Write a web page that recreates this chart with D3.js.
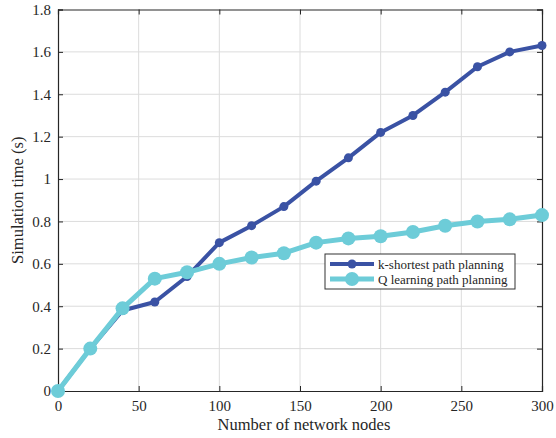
<!DOCTYPE html>
<html>
<head>
<meta charset="utf-8">
<script src="https://cdn.jsdelivr.net/npm/d3@7"></script>
<style>
  body { margin: 0; background: #fff; }
  svg text { font-family: "Liberation Serif", "Times New Roman", Times, serif !important; fill: #262626; }
</style>
</head>
<body>
<svg id="chart" width="556" height="438"></svg>
<script>
// Number of network nodes on the x axis
const nodes = [0, 20, 40, 60, 80, 100, 120, 140, 160, 180, 200, 220, 240, 260, 280, 300];
// Simulation time (s) for each planner
const kShortest = [0, 0.20, 0.38, 0.42, 0.54, 0.70, 0.78, 0.87, 0.99, 1.10, 1.22, 1.30, 1.41, 1.53, 1.60, 1.63];
const qLearning = [0, 0.20, 0.39, 0.53, 0.56, 0.60, 0.63, 0.65, 0.70, 0.72, 0.73, 0.75, 0.78, 0.80, 0.81, 0.83];
const xTicks = [0, 50, 100, 150, 200, 250, 300];
const yTicks = [0, 0.2, 0.4, 0.6, 0.8, 1, 1.2, 1.4, 1.6, 1.8];
const seriesNames = ["k-shortest path planning", "Q learning path planning"];

const serif = "'Liberation Serif', 'Times New Roman', Times, serif";
const svg = d3.select("#chart");
const plotL = 58, plotR = 542, plotT = 9.5, plotB = 391;

const x = d3.scaleLinear().domain([0, 300]).range([plotL, plotR]);
const y = d3.scaleLinear().domain([0, 1.8]).range([plotB, plotT]);

// grid
const grid = svg.append("g").attr("stroke", "#dcdcdc").attr("stroke-width", 1);
grid.selectAll("line.gx").data(xTicks.slice(1, -1)).join("line")
  .attr("x1", d => x(d)).attr("x2", d => x(d)).attr("y1", plotT).attr("y2", plotB);
grid.selectAll("line.gy").data(yTicks.slice(1, -1)).join("line")
  .attr("x1", plotL).attr("x2", plotR).attr("y1", d => y(d)).attr("y2", d => y(d));

// axes with inward ticks
const fmt = d => d3.format("~g")(d);
const axB = svg.append("g").attr("transform", `translate(0,${plotB})`)
  .call(d3.axisBottom(x).tickValues(xTicks).tickSize(-5).tickPadding(9).tickFormat(fmt));
const axL = svg.append("g").attr("transform", `translate(${plotL},0)`)
  .call(d3.axisLeft(y).tickValues(yTicks).tickSize(-5).tickPadding(7).tickFormat(fmt));
const axT = svg.append("g").attr("transform", `translate(0,${plotT})`)
  .call(d3.axisTop(x).tickValues(xTicks).tickSize(-5).tickFormat(""));
const axR = svg.append("g").attr("transform", `translate(${plotR},0)`)
  .call(d3.axisRight(y).tickValues(yTicks).tickSize(-5).tickFormat(""));
[axB, axL, axT, axR].forEach(a => {
  a.attr("font-family", serif);
  a.select(".domain").attr("stroke", "#262626").attr("stroke-width", 1.2);
  a.selectAll(".tick line").attr("stroke", "#262626");
  a.selectAll("text").style("font-family", serif).style("font-size", "15px").attr("fill", "#262626");
});

// axis titles
svg.append("text").attr("x", (plotL + plotR) / 2 + 4).attr("y", 430)
  .attr("text-anchor", "middle").style("font-family", serif).style("font-size", "16.5px")
  .text("Number of network nodes");
svg.append("text").attr("transform", `translate(23,${(plotT + plotB) / 2}) rotate(-90)`)
  .attr("text-anchor", "middle").style("font-family", serif).style("font-size", "16.5px")
  .text("Simulation time (s)");

const line = d3.line().x(d => x(d[0])).y(d => y(d[1]));
const series = [
  { name: seriesNames[0], values: kShortest, color: "#3a52a4", width: 4, r: 4.5 },
  { name: seriesNames[1], values: qLearning, color: "#6dccd8", width: 5, r: 7 }
];

series.forEach(s => {
  const pts = nodes.map((n, i) => [n, s.values[i]]);
  svg.append("path").datum(pts).attr("d", line)
    .attr("fill", "none").attr("stroke", s.color).attr("stroke-width", s.width)
    .attr("stroke-linejoin", "round");
  svg.append("g").selectAll("circle").data(pts).join("circle")
    .attr("cx", d => x(d[0])).attr("cy", d => y(d[1])).attr("r", s.r)
    .attr("fill", s.color);
});

// legend
const lg = svg.append("g").attr("transform", "translate(325,254)");
lg.append("rect").attr("width", 190).attr("height", 35)
  .attr("fill", "#fff").attr("stroke", "#333").attr("stroke-width", 1);
series.forEach((s, i) => {
  const cy = 10 + i * 15;
  lg.append("line").attr("x1", 5).attr("x2", 49).attr("y1", cy).attr("y2", cy)
    .attr("stroke", s.color).attr("stroke-width", s.width);
  lg.append("circle").attr("cx", 27).attr("cy", cy).attr("r", s.r).attr("fill", s.color);
  lg.append("text").attr("x", 53).attr("y", cy + 4.5)
    .style("font-family", serif).style("font-size", "13px").text(s.name);
});
</script>
</body>
</html>
